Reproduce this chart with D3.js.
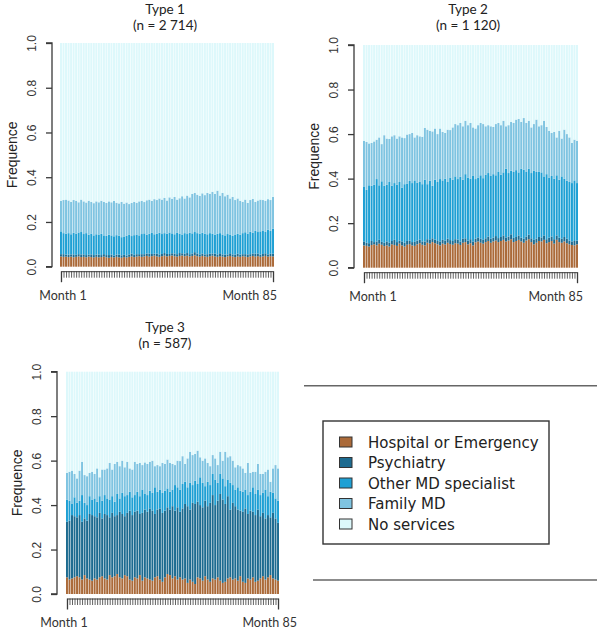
<!DOCTYPE html>
<html><head><meta charset="utf-8">
<script src="https://cdn.jsdelivr.net/npm/d3@7"></script>
<style>body{margin:0;background:#fff}svg{display:block}</style>
</head><body>
<svg id="chart" width="600" height="636"></svg>
<script>
// ---------- DATA (cumulative upper edge of each band) ----------
const categories = ["Hospital or Emergency","Psychiatry","Other MD specialist","Family MD","No services"];
const months = d3.range(1, 86);           // Month 1 .. Month 85
const monthLabels = ["Month 1","Month 85"];
const yTicks = [0, 0.2, 0.4, 0.6, 0.8, 1.0];
const panelTitles = ["Type 1","Type 2","Type 3"];
const panelCounts = ["(n = 2 714)","(n = 1 120)","(n = 587)"];

const t1Hospital = [0.046,0.044,0.045,0.043,0.045,0.042,0.044,0.046,0.043,0.044,0.042,0.045,0.043,0.041,0.044,0.042,0.043,0.045,0.042,0.040,0.043,0.041,0.044,0.042,0.040,0.043,0.041,0.044,0.046,0.043,0.045,0.047,0.044,0.046,0.048,0.045,0.047,0.049,0.046,0.044,0.047,0.049,0.046,0.048,0.050,0.047,0.045,0.048,0.050,0.047,0.049,0.046,0.048,0.051,0.047,0.045,0.048,0.046,0.044,0.047,0.049,0.046,0.044,0.047,0.045,0.043,0.046,0.048,0.045,0.043,0.046,0.044,0.047,0.045,0.043,0.046,0.048,0.045,0.047,0.044,0.046,0.048,0.045,0.047,0.046];
const t1Psychiatry = [0.056,0.056,0.054,0.054,0.055,0.055,0.053,0.056,0.055,0.055,0.052,0.054,0.055,0.052,0.054,0.054,0.052,0.056,0.052,0.052,0.054,0.050,0.054,0.054,0.051,0.053,0.050,0.055,0.058,0.053,0.056,0.056,0.056,0.056,0.059,0.058,0.057,0.058,0.058,0.055,0.057,0.061,0.057,0.057,0.060,0.059,0.056,0.061,0.060,0.058,0.061,0.056,0.059,0.065,0.059,0.055,0.059,0.055,0.056,0.058,0.059,0.058,0.055,0.060,0.055,0.054,0.055,0.060,0.055,0.054,0.058,0.054,0.056,0.056,0.055,0.056,0.059,0.058,0.059,0.054,0.057,0.060,0.055,0.058,0.058];
const t1OtherMD = [0.158,0.150,0.147,0.150,0.145,0.152,0.148,0.153,0.155,0.146,0.150,0.143,0.148,0.140,0.145,0.142,0.147,0.140,0.138,0.143,0.140,0.136,0.141,0.138,0.132,0.135,0.139,0.142,0.137,0.141,0.144,0.140,0.146,0.149,0.143,0.147,0.151,0.145,0.148,0.152,0.146,0.150,0.147,0.153,0.149,0.145,0.151,0.148,0.144,0.150,0.146,0.152,0.149,0.155,0.150,0.147,0.152,0.148,0.145,0.150,0.148,0.143,0.147,0.150,0.144,0.140,0.146,0.142,0.138,0.144,0.147,0.143,0.150,0.154,0.148,0.156,0.152,0.160,0.155,0.158,0.162,0.157,0.165,0.160,0.170];
const t1FamilyMD = [0.295,0.298,0.300,0.296,0.290,0.298,0.295,0.288,0.300,0.292,0.287,0.295,0.290,0.284,0.292,0.288,0.295,0.290,0.285,0.292,0.288,0.294,0.286,0.283,0.290,0.282,0.287,0.280,0.285,0.290,0.286,0.292,0.295,0.289,0.297,0.300,0.294,0.302,0.298,0.305,0.300,0.308,0.296,0.310,0.304,0.312,0.300,0.306,0.315,0.305,0.318,0.310,0.325,0.330,0.322,0.316,0.328,0.320,0.330,0.326,0.335,0.325,0.340,0.318,0.330,0.315,0.322,0.305,0.312,0.298,0.305,0.295,0.290,0.300,0.285,0.298,0.303,0.290,0.296,0.300,0.298,0.295,0.302,0.298,0.312];

const t2Hospital = [0.100,0.098,0.095,0.102,0.105,0.100,0.108,0.103,0.097,0.100,0.095,0.105,0.102,0.098,0.108,0.100,0.095,0.103,0.106,0.100,0.098,0.105,0.110,0.103,0.100,0.112,0.108,0.115,0.110,0.105,0.100,0.108,0.104,0.112,0.106,0.103,0.110,0.108,0.102,0.112,0.115,0.105,0.110,0.100,0.114,0.118,0.112,0.108,0.115,0.120,0.112,0.118,0.122,0.115,0.120,0.125,0.118,0.122,0.128,0.115,0.120,0.125,0.118,0.112,0.122,0.128,0.115,0.105,0.112,0.120,0.118,0.125,0.110,0.115,0.120,0.108,0.125,0.115,0.112,0.118,0.110,0.105,0.102,0.100,0.105];
const t2Psychiatry = [0.118,0.112,0.110,0.120,0.115,0.118,0.125,0.116,0.112,0.118,0.112,0.120,0.125,0.115,0.122,0.118,0.112,0.120,0.122,0.115,0.116,0.122,0.126,0.118,0.118,0.128,0.125,0.132,0.126,0.120,0.118,0.125,0.122,0.130,0.124,0.120,0.128,0.126,0.118,0.130,0.132,0.122,0.128,0.118,0.130,0.136,0.130,0.125,0.132,0.140,0.130,0.135,0.142,0.133,0.138,0.145,0.136,0.140,0.150,0.134,0.138,0.145,0.135,0.130,0.140,0.148,0.132,0.125,0.130,0.138,0.136,0.145,0.128,0.135,0.140,0.128,0.145,0.135,0.130,0.138,0.130,0.122,0.118,0.120,0.122];
const t2OtherMD = [0.365,0.350,0.370,0.368,0.372,0.398,0.370,0.388,0.368,0.372,0.385,0.368,0.380,0.372,0.385,0.360,0.375,0.378,0.390,0.380,0.392,0.382,0.385,0.375,0.395,0.375,0.390,0.368,0.395,0.385,0.398,0.392,0.400,0.385,0.405,0.395,0.410,0.398,0.408,0.395,0.420,0.405,0.400,0.412,0.398,0.405,0.415,0.402,0.418,0.425,0.412,0.420,0.415,0.432,0.418,0.428,0.445,0.425,0.435,0.430,0.438,0.428,0.445,0.440,0.432,0.445,0.425,0.435,0.430,0.432,0.428,0.410,0.420,0.405,0.412,0.400,0.415,0.395,0.410,0.400,0.390,0.385,0.380,0.392,0.380];
const t2FamilyMD = [0.570,0.565,0.558,0.560,0.567,0.575,0.585,0.555,0.595,0.580,0.578,0.590,0.595,0.580,0.590,0.585,0.582,0.598,0.600,0.605,0.585,0.595,0.590,0.588,0.628,0.620,0.615,0.612,0.625,0.600,0.625,0.610,0.605,0.620,0.618,0.630,0.645,0.640,0.650,0.635,0.660,0.640,0.650,0.630,0.625,0.640,0.650,0.645,0.635,0.640,0.635,0.632,0.645,0.650,0.640,0.660,0.635,0.640,0.655,0.650,0.665,0.668,0.655,0.672,0.650,0.660,0.630,0.645,0.665,0.635,0.640,0.660,0.632,0.615,0.605,0.610,0.585,0.615,0.580,0.620,0.600,0.585,0.560,0.575,0.570];

const t3Hospital = [0.075,0.065,0.070,0.075,0.080,0.075,0.065,0.085,0.070,0.065,0.060,0.070,0.065,0.075,0.080,0.070,0.065,0.085,0.075,0.080,0.090,0.075,0.070,0.085,0.080,0.065,0.060,0.075,0.070,0.085,0.060,0.075,0.070,0.065,0.060,0.075,0.080,0.065,0.055,0.075,0.090,0.085,0.070,0.080,0.065,0.075,0.065,0.070,0.050,0.065,0.055,0.045,0.075,0.070,0.060,0.080,0.065,0.055,0.070,0.065,0.075,0.060,0.050,0.055,0.070,0.075,0.065,0.070,0.060,0.080,0.055,0.050,0.070,0.065,0.075,0.055,0.060,0.070,0.080,0.065,0.075,0.085,0.070,0.065,0.060];
const t3Psychiatry = [0.325,0.330,0.355,0.350,0.345,0.355,0.325,0.340,0.330,0.360,0.355,0.350,0.345,0.365,0.340,0.360,0.355,0.345,0.365,0.350,0.355,0.370,0.360,0.350,0.365,0.375,0.355,0.370,0.375,0.360,0.365,0.380,0.370,0.385,0.375,0.360,0.380,0.385,0.365,0.375,0.390,0.380,0.395,0.375,0.390,0.370,0.385,0.405,0.395,0.380,0.410,0.405,0.415,0.400,0.390,0.420,0.395,0.410,0.445,0.400,0.420,0.450,0.425,0.405,0.440,0.380,0.410,0.395,0.380,0.375,0.370,0.385,0.360,0.375,0.370,0.355,0.380,0.350,0.365,0.340,0.355,0.345,0.365,0.340,0.320];
const t3OtherMD = [0.425,0.420,0.405,0.435,0.410,0.420,0.445,0.410,0.400,0.440,0.425,0.430,0.415,0.440,0.420,0.445,0.430,0.425,0.440,0.415,0.450,0.430,0.455,0.440,0.445,0.460,0.435,0.445,0.460,0.440,0.470,0.450,0.445,0.465,0.455,0.480,0.460,0.470,0.455,0.465,0.475,0.460,0.470,0.490,0.480,0.470,0.495,0.505,0.480,0.500,0.490,0.510,0.495,0.525,0.500,0.485,0.505,0.490,0.540,0.515,0.500,0.540,0.520,0.485,0.515,0.500,0.490,0.470,0.480,0.465,0.460,0.470,0.445,0.460,0.480,0.450,0.470,0.445,0.455,0.470,0.440,0.460,0.455,0.430,0.420];
const t3FamilyMD = [0.545,0.550,0.555,0.540,0.520,0.555,0.595,0.535,0.530,0.545,0.550,0.540,0.565,0.525,0.560,0.560,0.565,0.590,0.560,0.585,0.595,0.575,0.600,0.570,0.595,0.565,0.560,0.595,0.585,0.590,0.580,0.592,0.585,0.595,0.600,0.575,0.580,0.575,0.590,0.585,0.605,0.590,0.585,0.580,0.600,0.598,0.620,0.585,0.610,0.640,0.625,0.630,0.645,0.615,0.600,0.610,0.590,0.575,0.625,0.610,0.580,0.640,0.600,0.640,0.615,0.620,0.600,0.570,0.580,0.575,0.565,0.545,0.590,0.545,0.550,0.550,0.585,0.540,0.540,0.550,0.560,0.505,0.565,0.580,0.565];

const colors = ["#ab6a39","#1d6b90","#1fa0d4","#7fc4e1","#ddf8fb"];

// ---------- LAYOUT ----------
const panels = [
  {title:0, series:[t1Hospital,t1Psychiatry,t1OtherMD,t1FamilyMD], axisX:52, left:60, right:274, top:43, bottom:266.7, titleX:165, titleY:14, m1:[63,"middle"], m85:[277,"end"]},
  {title:1, series:[t2Hospital,t2Psychiatry,t2OtherMD,t2FamilyMD], axisX:354, left:363, right:578, top:45, bottom:267.7, titleX:468, titleY:14, m1:[373,"middle"], m85:[583,"end"]},
  {title:2, series:[t3Hospital,t3Psychiatry,t3OtherMD,t3FamilyMD], axisX:57, left:66, right:279, top:371.7, bottom:594, titleX:165, titleY:332, m1:[64,"middle"], m85:[297,"end"]}
];

const svg = d3.select("#chart");
const axisCol = "#3a3a3a";

panels.forEach(p => {
  const g = svg.append("g");
  const x = d3.scaleBand().domain(months).range([p.left, p.right]).paddingInner(0.22).paddingOuter(0);
  const y = d3.scaleLinear().domain([0,1]).range([p.bottom, p.top]);

  // stacked bars: each band from previous upper edge to its own
  const edges = [months.map(()=>0), ...p.series, months.map(()=>1)];
  for (let k = 0; k < 5; k++) {
    g.append("g").selectAll("rect").data(months).join("rect")
      .attr("x", m => x(m))
      .attr("width", x.bandwidth())
      .attr("y", (m,i) => y(edges[k+1][i]))
      .attr("height", (m,i) => y(edges[k][i]) - y(edges[k+1][i]))
      .attr("fill", colors[k]);
  }

  // y axis (R style)
  const yAxis = d3.axisLeft(y).tickValues(yTicks).tickFormat(d3.format(".1f")).tickSize(6).tickPadding(4);
  const ya = g.append("g").attr("transform", `translate(${p.axisX},0)`).call(yAxis);
  ya.select(".domain").attr("stroke", axisCol).attr("stroke-width",1.3).attr("d", `M-6,${y(0)}H0V${y(1)}H-6`);
  ya.selectAll(".tick line").attr("stroke", axisCol).attr("stroke-width",1.3);
  ya.selectAll(".tick text")
    .attr("font-family","Liberation Sans, Arial, sans-serif").attr("font-size",12).attr("fill","#333")
    .attr("text-anchor","middle").attr("dy",null)
    .attr("transform","translate(-20,0) rotate(-90)").attr("x",0).attr("y",4);

  // x axis: ticks at each month
  const xa = g.append("g").attr("transform", `translate(0,${p.bottom + 4.5})`);
  const xAxis = d3.axisBottom(d3.scalePoint().domain(months).range([x(1)+x.bandwidth()/2, x(85)+x.bandwidth()/2]))
    .tickFormat("").tickSize(6.5).tickSizeOuter(0);
  xa.call(xAxis);
  xa.select(".domain").attr("stroke", axisCol).attr("stroke-width",1);
  xa.selectAll(".tick line").attr("stroke", axisCol)
    .attr("y2", d => (d===1||d===85) ? 11 : 6.5).attr("stroke-width", d => (d===1||d===85) ? 1.3 : 0.8);

  g.append("text").attr("x", p.m1[0]).attr("y", p.bottom + 33).attr("text-anchor", p.m1[1])
    .attr("font-family","Lato, sans-serif").attr("font-size",12.5).attr("fill","#333").text(monthLabels[0]);
  g.append("text").attr("x", p.m85[0]).attr("y", p.bottom + 33).attr("text-anchor", p.m85[1])
    .attr("font-family","Lato, sans-serif").attr("font-size",12.5).attr("fill","#333").text(monthLabels[1]);

  // y label
  g.append("text").attr("transform", `translate(${p.axisX - 35},${(p.top+p.bottom)/2}) rotate(-90)`)
    .attr("text-anchor","middle").attr("font-family","Liberation Sans, Arial, sans-serif").attr("font-size",14)
    .attr("fill","#222").text("Frequence");

  // titles
  g.append("text").attr("x", p.titleX).attr("y", p.titleY).attr("text-anchor","middle")
    .attr("font-family","Lato, sans-serif").attr("font-size",13.5).attr("fill","#222").text(panelTitles[p.title]);
  g.append("text").attr("x", p.titleX).attr("y", p.titleY + 16).attr("text-anchor","middle")
    .attr("font-family","Lato, sans-serif").attr("font-size",13.5).attr("fill","#222").text(panelCounts[p.title]);
});

// ---------- LEGEND ----------
const lg = svg.append("g");
lg.append("line").attr("x1",304).attr("x2",597).attr("y1",385.7).attr("y2",385.7).attr("stroke","#666").attr("stroke-width",1.4);
lg.append("line").attr("x1",313).attr("x2",597).attr("y1",580).attr("y2",580).attr("stroke","#666").attr("stroke-width",1.4);
lg.append("rect").attr("x",323).attr("y",421).attr("width",226).attr("height",123).attr("fill","#fff").attr("stroke","#333").attr("stroke-width",1.4);
const rowY = d3.scalePoint().domain(categories).range([442, 524]);
categories.forEach((c,i) => {
  lg.append("rect").attr("x",339.5).attr("y",rowY(c)-5).attr("width",12.5).attr("height",10)
    .attr("fill",colors[i]).attr("stroke","#333").attr("stroke-width",1);
  lg.append("text").attr("x",368).attr("y",rowY(c)+5.5).attr("font-family","DejaVu Sans, sans-serif")
    .attr("font-size",15).attr("fill","#222").text(c);
});
</script>
</body></html>
